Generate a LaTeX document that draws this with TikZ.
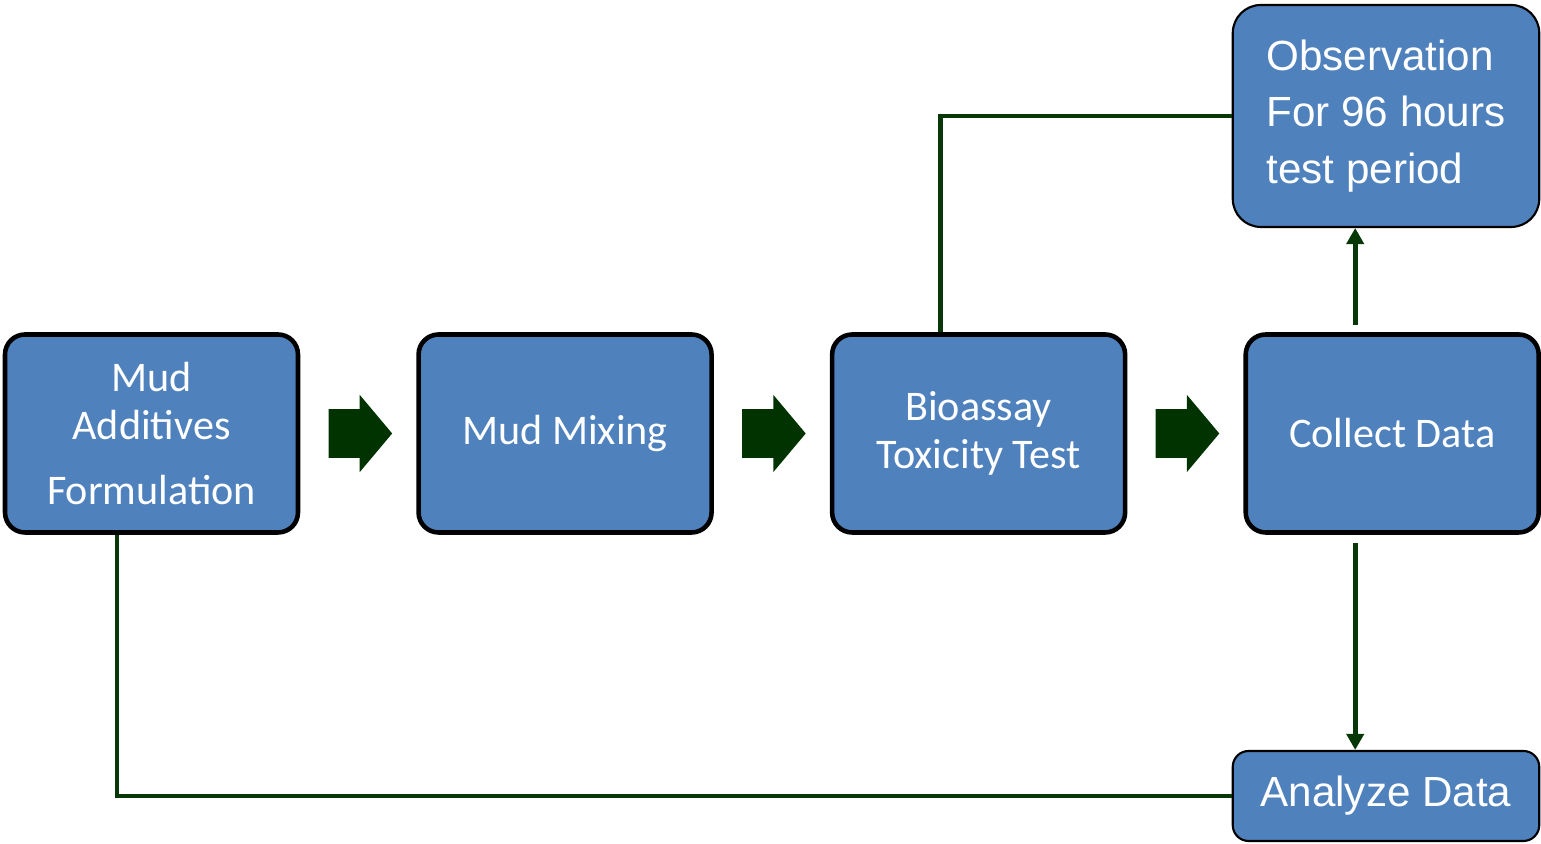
\documentclass[tikz,border=0pt]{standalone}
\usepackage{fontspec}
\setmainfont{Carlito}
\newfontfamily\arialfont{Liberation Sans}
\usetikzlibrary{arrows.meta,positioning,calc,shapes.arrows}
\definecolor{stagec}{RGB}{79,129,189}
\definecolor{flowc}{RGB}{0,51,0}
\definecolor{linkc}{RGB}{8,56,8}
\tikzset{
  stage/.style   = {draw=black, line width=1.3pt, fill=stagec, rounded corners=5.7pt,
                    minimum width=2.93cm, minimum height=1.98cm, align=center,
                    text=white, font=\fontsize{12}{13.5}\selectfont},
  note/.style    = {draw=black, line width=0.6pt, fill=stagec, minimum width=3.065cm,
                    text=white, font=\arialfont\fontsize{12}{16}\selectfont},
  flow/.style    = {single arrow, draw=flowc, fill=flowc, inner xsep=0pt, inner ysep=0.23cm,
                    minimum height=0.62cm, single arrow head extend=0.13cm,
                    single arrow tip angle=100, xshift=-0.08cm},
  link/.style    = {linkc, line width=1.4pt},
  linkarr/.style = {link, -{Triangle[length=0.16cm,width=0.17cm]}},
}
\begin{document}
\begin{tikzpicture}
\useasboundingbox (0,0) rectangle (15.41,8.44);

% ---- main row ----
\node[stage] (form) at (1.515,4.105) {Mud\\Additives\\[5pt]Formulation};
\node[stage, right=1.16cm of form] (mix) {Mud Mixing};
\node[stage, right=1.16cm of mix] (bio) {Bioassay\\Toxicity Test};
\node[stage, right=1.16cm of bio] (col) {Collect Data};

\node[flow] (fa1) at ($(form.east)!0.5!(mix.west)$) {};
\node[flow] (fa2) at ($(mix.east)!0.5!(bio.west)$) {};
\node[flow] (fa3) at ($(bio.east)!0.5!(col.west)$) {};

% ---- observation / analysis ----
\node[note, rounded corners=8pt, minimum height=2.22cm, align=left] (obs)
      at (13.86,7.28) {Observation\\For 96 hours\\test period};
\node[note, rounded corners=4.5pt, minimum height=0.9cm] (ana)
      at (13.86,0.48) {Analyze Data};

\coordinate (cup) at ([xshift=-0.37cm]col.north);
\coordinate (cdn) at ([xshift=-0.37cm]col.south);

\draw[link] ([xshift=-0.385cm]bio.north) |- (obs.west);
\draw[linkarr, shorten <=0.07cm] (cup) -- (cup |- obs.south);
\draw[linkarr, shorten <=0.08cm] (cdn) -- (cdn |- ana.north);
\draw[link] ([xshift=-0.345cm]form.south) |- (ana.west);

\end{tikzpicture}
\end{document}
